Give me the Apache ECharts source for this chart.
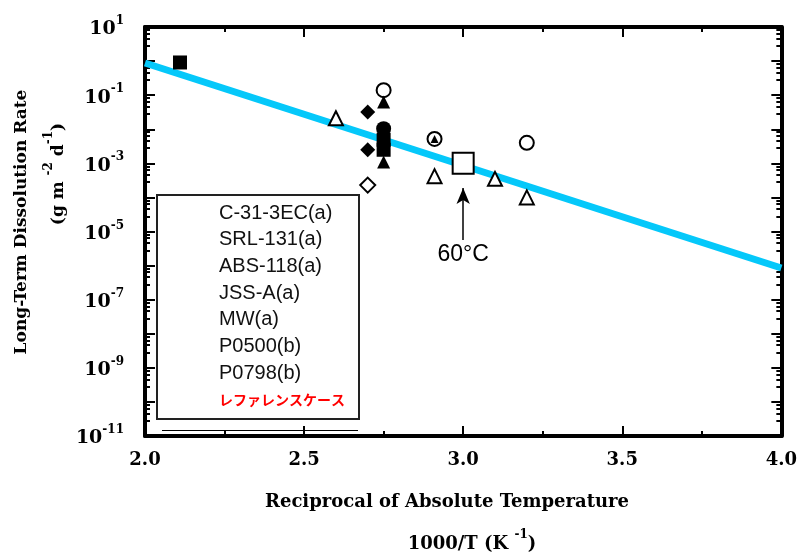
<!DOCTYPE html>
<html>
<head>
<meta charset="utf-8">
<script src="https://cdn.jsdelivr.net/npm/echarts@6/dist/echarts.min.js"></script>
<style>
html, body { margin: 0; padding: 0; background: #fff; }
#chart { width: 800px; height: 554px; }
</style>
</head>
<body>
<div id="chart"></div>
<script>
// data: [1000/T, rate]
var c313ec = [[2.75, 0.14], [2.91, 0.0052], [3.2, 0.004]];
var srl131 = [[2.75, 0.063], [2.75, 0.0011], [2.91, 0.0052]];
var abs118 = [[2.75, 0.0104]];
var jssA = [[2.7, 0.032], [2.7, 0.0025]];
var mw = [[2.7, 0.00023]];
var p0500 = [[2.6, 0.021], [2.91, 0.00042], [3.1, 0.00035], [3.2, 0.0001]];
var p0798 = [[2.11, 0.91], [2.75, 0.0049], [2.75, 0.0025]];
var refCase = [[3.0, 0.001]];
var fitLine = [[2.0, 0.88], [4.0, 8.5e-7]];
var arrow60 = [[3.0, 5.6e-6], [3.0, 1.9e-4]];

var xTickLabels = ['2.0', '2.5', '3.0', '3.5', '4.0'];
var yTickExps = [1, -1, -3, -5, -7, -9, -11];

var chartDom = document.getElementById('chart');
var myChart = echarts.init(chartDom);
var option;

const serifBold = { fontFamily: 'DejaVu Serif', fontWeight: 'bold', color: '#000' };
const openStyle = { color: '#fff', borderColor: '#000', borderWidth: 2, opacity: 1 };
const fillStyle = { color: '#000', opacity: 1 };

function xAxisDef(pos, showLabel) {
  return {
    type: 'value',
    position: pos,
    min: 2,
    max: 4,
    interval: 0.5,
    axisLine: { lineStyle: { color: '#000', width: 4 } },
    axisTick: { inside: true, length: 10, lineStyle: { color: '#000', width: 2 } },
    minorTick: { show: true, splitNumber: 2, length: 5, lineStyle: { color: '#000', width: 2 } },
    splitLine: { show: false },
    axisLabel: {
      show: showLabel,
      margin: 15,
      fontSize: 18,
      fontFamily: 'DejaVu Serif',
      fontWeight: 'bold',
      color: '#000',
      formatter: function (v) {
        return xTickLabels[Math.round((v - 2) / 0.5)];
      }
    }
  };
}

function yAxisDef(pos, showLabel) {
  return {
    type: 'log',
    logBase: 10,
    position: pos,
    min: 1e-11,
    max: 10,
    interval: 1,
    axisLine: { lineStyle: { color: '#000', width: 4 } },
    axisTick: { inside: true, length: 10, lineStyle: { color: '#000', width: 2 } },
    minorTick: { show: true, splitNumber: 5, length: 5, lineStyle: { color: '#000', width: 2 } },
    splitLine: { show: false },
    axisLabel: {
      show: showLabel,
      margin: 21,
      formatter: function (v) {
        var e = Math.round(Math.log10(v));
        if (yTickExps.indexOf(e) < 0) return '';
        return '{b|10}{s|' + e + '}';
      },
      rich: {
        b: Object.assign({ fontSize: 19, lineHeight: 24, verticalAlign: 'bottom' }, serifBold),
        s: Object.assign({ fontSize: 12, verticalAlign: 'top' }, serifBold)
      }
    }
  };
}

option = {
  backgroundColor: '#fff',
  animation: false,
  grid: { left: 145, right: 16, top: 27, bottom: 118 },
  legend: {
    orient: 'vertical',
    left: 193,
    top: 203,
    padding: 0,
    itemGap: 6.7,
    itemWidth: 20,
    itemHeight: 14,
    itemStyle: { opacity: 0 },
    lineStyle: { opacity: 0 },
    selectedMode: false,
    textStyle: { fontFamily: 'Liberation Sans', fontSize: 20, lineHeight: 20, color: '#111' },
    data: [
      'C-31-3EC(a)', 'SRL-131(a)', 'ABS-118(a)', 'JSS-A(a)', 'MW(a)', 'P0500(b)', 'P0798(b)',
      { name: 'レファレンスケース', textStyle: { color: '#ff0000', fontFamily: 'Noto Sans CJK JP', fontSize: 14, fontWeight: 'bold' } }
    ]
  },
  graphic: [
    {
      type: 'rect',
      z: 0,
      shape: { x: 157, y: 195, width: 202, height: 224 },
      style: { fill: '#fff', stroke: '#222', lineWidth: 2 }
    },
    {
      type: 'line',
      shape: { x1: 162, y1: 430.5, x2: 358, y2: 430.5 },
      style: { stroke: '#000', lineWidth: 1 }
    },
    {
      type: 'text',
      x: 447,
      y: 502,
      style: {
        text: 'Reciprocal of Absolute Temperature',
        font: 'bold 18px "DejaVu Serif"',
        fill: '#000',
        align: 'center',
        verticalAlign: 'middle'
      }
    },
    {
      type: 'text',
      x: 472,
      y: 541,
      style: {
        text: '{b|1000/T (K }{s|-1}{b|)}',
        align: 'center',
        verticalAlign: 'middle',
        rich: {
          b: { font: 'bold 18px "DejaVu Serif"', fill: '#000', lineHeight: 24, verticalAlign: 'bottom' },
          s: { font: 'bold 12px "DejaVu Serif"', fill: '#000', verticalAlign: 'top' }
        }
      }
    },
    {
      type: 'text',
      x: 22,
      y: 222,
      rotation: Math.PI / 2,
      style: {
        text: 'Long-Term Dissolution Rate',
        font: 'bold 17px "DejaVu Serif"',
        fill: '#000',
        align: 'center',
        verticalAlign: 'middle'
      }
    },
    {
      type: 'text',
      x: 55,
      y: 174,
      rotation: Math.PI / 2,
      style: {
        text: '{b|(g m }{s|-2}{b| d}{s|-1}{b|)}',
        align: 'center',
        verticalAlign: 'middle',
        rich: {
          b: { font: 'bold 17px "DejaVu Serif"', fill: '#000', lineHeight: 24, verticalAlign: 'bottom' },
          s: { font: 'bold 12px "DejaVu Serif"', fill: '#000', verticalAlign: 'top' }
        }
      }
    }
  ],
  xAxis: [xAxisDef('bottom', true), xAxisDef('top', false)],
  yAxis: [yAxisDef('left', true), yAxisDef('right', false)],
  series: [
    {
      name: 'fit',
      type: 'line',
      data: fitLine,
      symbol: 'none',
      silent: true,
      z: 1,
      lineStyle: { color: '#05c8fa', width: 7 }
    },
    {
      name: 'C-31-3EC(a)',
      type: 'scatter',
      data: c313ec,
      symbol: 'circle',
      symbolSize: 14,
      itemStyle: openStyle
    },
    {
      name: 'SRL-131(a)',
      type: 'scatter',
      data: srl131,
      symbol: 'triangle',
      symbolSize: function (val, params) {
        return params.dataIndex === 2 ? 8 : 13;
      },
      itemStyle: fillStyle
    },
    {
      name: 'ABS-118(a)',
      type: 'scatter',
      data: abs118,
      symbol: 'circle',
      symbolSize: 15,
      itemStyle: fillStyle
    },
    {
      name: 'JSS-A(a)',
      type: 'scatter',
      data: jssA,
      symbol: 'diamond',
      symbolSize: 15,
      itemStyle: fillStyle
    },
    {
      name: 'MW(a)',
      type: 'scatter',
      data: mw,
      symbol: 'diamond',
      symbolSize: 15,
      itemStyle: openStyle
    },
    {
      name: 'P0500(b)',
      type: 'scatter',
      data: p0500,
      symbol: 'triangle',
      symbolSize: 14,
      itemStyle: openStyle
    },
    {
      name: 'P0798(b)',
      type: 'scatter',
      data: p0798,
      symbol: 'rect',
      symbolSize: 14,
      itemStyle: fillStyle
    },
    {
      name: 'レファレンスケース',
      type: 'scatter',
      data: refCase,
      symbol: 'rect',
      symbolSize: 21,
      itemStyle: openStyle,
      markLine: {
        silent: true,
        symbol: ['none', 'arrow'],
        symbolSize: [10, 16],
        lineStyle: { color: '#000', width: 1.5, type: 'solid' },
        label: {
          show: true,
          position: 'start',
          distance: 3,
          formatter: '60°C',
          fontFamily: 'Liberation Sans',
          fontSize: 23,
          color: '#000'
        },
        data: [[{ coord: arrow60[0] }, { coord: arrow60[1] }]]
      }
    }
  ]
};

option && myChart.setOption(option);
</script>
</body>
</html>
